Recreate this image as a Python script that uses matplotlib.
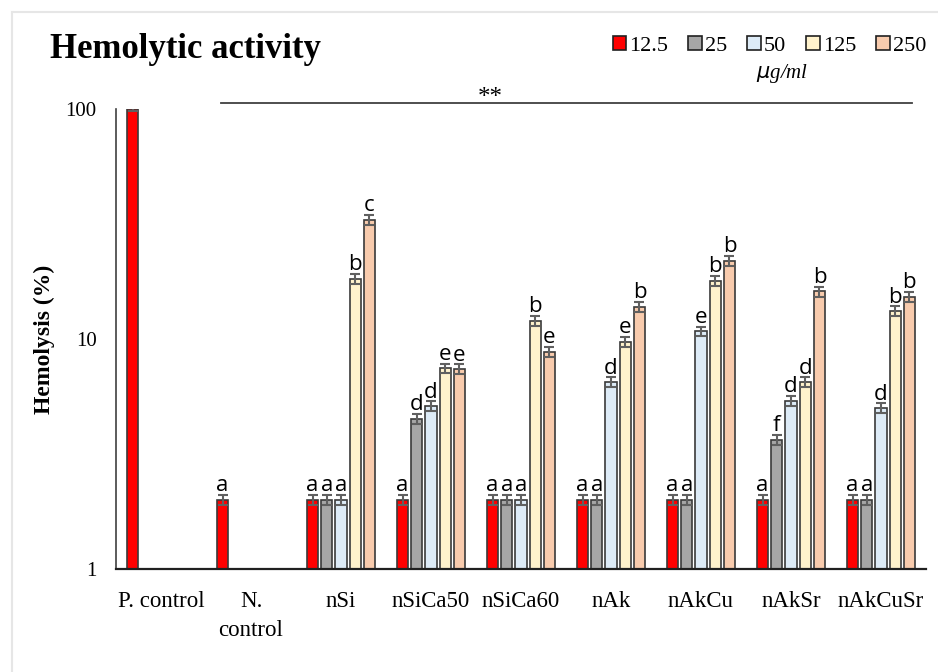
import numpy as np
import matplotlib
matplotlib.use('Agg')
import matplotlib.pyplot as plt
from matplotlib.patches import Patch
from matplotlib.lines import Line2D

nan = np.nan

# grupos y concentraciones
groups = ['P. control', 'N.\ncontrol', 'nSi', 'nSiCa50', 'nSiCa60', 'nAk', 'nAkCu', 'nAkSr', 'nAkCuSr']
doses = ['12.5', '25', '50', '125', '250']

v12 = [100, 2, 2, 2, 2, 2, 2, 2, 2]
v25 = [nan, nan, 2, 4.5, 2, 2, 2, 3.65, 2]
v50 = [nan, nan, 2, 5.1, 2, 6.5, 10.8, 5.4, 5.0]
v125 = [nan, nan, 18.3, 7.45, 12.0, 9.75, 17.9, 6.5, 13.2]
v250 = [nan, nan, 33, 7.4, 8.8, 13.8, 21.9, 16.1, 15.3]

e12 = [2, 0.1, 0.1, 0.1, 0.1, 0.1, 0.1, 0.1, 0.1]
e25 = [nan, nan, 0.1, 0.22, 0.1, 0.1, 0.1, 0.18, 0.1]
e50 = [nan, nan, 0.1, 0.25, 0.1, 0.32, 0.5, 0.27, 0.25]
e125 = [nan, nan, 0.9, 0.37, 0.6, 0.48, 0.9, 0.32, 0.65]
e250 = [nan, nan, 1.6, 0.37, 0.44, 0.68, 1.1, 0.8, 0.75]

l12 = ['', 'a', 'a', 'a', 'a', 'a', 'a', 'a', 'a']
l25 = ['', '', 'a', 'd', 'a', 'a', 'a', 'f', 'a']
l50 = ['', '', 'a', 'd', 'a', 'd', 'e', 'd', 'd']
l125 = ['', '', 'b', 'e', 'b', 'e', 'b', 'd', 'b']
l250 = ['', '', 'c', 'e', 'e', 'b', 'b', 'b', 'b']

colors = ['#ff0000', '#a6a6a6', '#ddebf7', '#fff2cc', '#f8cbad']

values = [v12, v25, v50, v125, v250]
errors = [e12, e25, e50, e125, e250]
letters = [l12, l25, l50, l125, l250]

serif = 'Liberation Serif'

fig = plt.figure(figsize=(9.38, 6.72), dpi=100)
ax = fig.add_axes([0.1237, 0.1533, 0.8635, 0.6845])

x = np.arange(len(groups))
step = 0.158
width = 0.124
for k in range(5):
    xs = x + (k - 2) * step
    vals = np.array(values[k], dtype=float)
    errs = np.array(errors[k], dtype=float)
    ok = ~np.isnan(vals)
    ax.bar(xs[ok], vals[ok], width, color=colors[k], edgecolor='#3a3a3a', linewidth=1.2, zorder=2)
    ax.errorbar(xs[ok], vals[ok], yerr=errs[ok], fmt='none', ecolor='#606060',
                elinewidth=1.5, capsize=3.5, capthick=1.5, zorder=3)
    for xi, v, e, t in zip(xs, vals, errs, letters[k]):
        if t and not np.isnan(v):
            ax.annotate(t, (xi, v + e), xytext=(0, -1), textcoords='offset points',
                        ha='center', va='bottom', fontsize=16, family='Open Sans')

ax.set_yscale('log')
ax.set_ylim(1, 100)
ax.set_xlim(-0.5, len(groups) - 0.5)
ax.set_yticks([1, 10, 100])
ax.set_yticklabels(['1', '10', '100'], family=serif, fontsize=15)
ax.minorticks_off()
ax.tick_params(axis='y', length=0, pad=14)
ax.set_xticks(x)
ax.set_xticklabels(groups, family=serif, fontsize=16.5, linespacing=1.5)
ax.tick_params(axis='x', length=0, pad=16)
for s in ['top', 'right']:
    ax.spines[s].set_visible(False)
ax.spines['left'].set_color('#404040')
ax.spines['left'].set_linewidth(1.2)
ax.spines['bottom'].set_color('#202020')
ax.spines['bottom'].set_linewidth(1.6)

ax.set_ylabel('Hemolysis (%)', family=serif, fontsize=17, fontweight='bold')
ax.yaxis.set_label_coords(-0.075, 0.5)

# linea de significancia
ax.plot([0.667, 8.344], [106, 106], color='#404040', lw=1.3, clip_on=False)
ax.text(3.66, 100, '**', ha='center', va='bottom', family=serif, fontsize=18, clip_on=False)

fig.text(0.053, 0.927, 'Hemolytic activity', family=serif, fontsize=25, fontweight='bold',
         va='center', ha='left')

handles = [Patch(facecolor=c, edgecolor='#202020', linewidth=1.2) for c in colors]
fig.legend(handles, doses, loc='center right', bbox_to_anchor=(0.997, 0.932), ncol=5,
           frameon=False, prop={'family': serif, 'size': 16}, handlelength=0.6,
           handleheight=0.6, handletextpad=0.15, columnspacing=0.9, borderaxespad=0)
fig.text(0.834, 0.89, r'$\mu$g/ml', family=serif, fontsize=15, style='italic',
         ha='center', va='center')

# marco gris claro
fig.add_artist(Line2D([12 / 938, 1], [1 - 12 / 672, 1 - 12 / 672], color='#e6e6e6', lw=1.5))
fig.add_artist(Line2D([12 / 938, 12 / 938], [0, 1 - 12 / 672], color='#e6e6e6', lw=1.5))

fig.savefig('out.png', dpi=100)
